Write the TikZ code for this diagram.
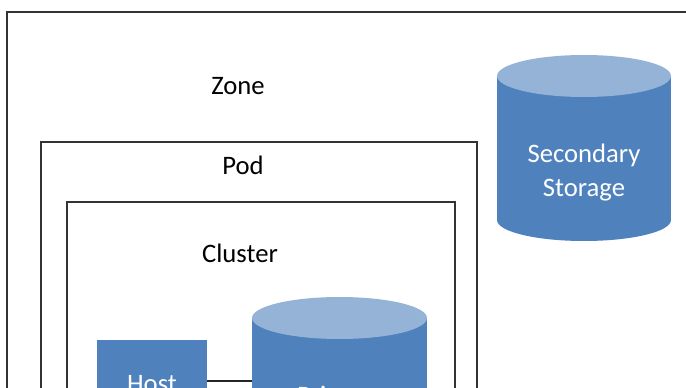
\documentclass[tikz,border=0pt]{standalone}
\usepackage{fontspec}
\setmainfont{Carlito}
\definecolor{storbody}{RGB}{79,129,189}
\definecolor{stortop}{RGB}{149,179,215}
\tikzset{
  frame/.style={draw=black!80, line width=1pt},
  lbl/.style={inner sep=0.75pt, font=\fontsize{20}{26}\selectfont, align=center},
  stortext/.style={lbl, text=white},
  hostbox/.style={fill=storbody, minimum width=82.5pt, minimum height=61.5pt, inner sep=0pt, font=\fontsize{20}{26}\selectfont, text=white},
  link/.style={draw=black!85, line width=0.8pt}
}
\begin{document}
\begin{tikzpicture}[x=0.75pt,y=0.75pt,yscale=-1,xscale=1]
\clip (0,0) rectangle (686,388);
\fill[white] (0,0) rectangle (686,388);

%Shape: Rectangle [zone]
\draw[frame] (7,12) rectangle (720,420);
%Shape: Rectangle [pod]
\draw[frame] (41,142) rectangle (477,420);
%Shape: Rectangle [cluster]
\draw[frame] (67,202) rectangle (455,420);

%Shape: Can [secondary storage]
\fill[storbody] (497,76) rectangle (671,220);
\fill[storbody] (584,220) ellipse [x radius=87, y radius=21];
\fill[stortop] (584,76) ellipse [x radius=87, y radius=21];

%Shape: Can [primary storage]
\fill[storbody] (252,318) rectangle (427,462);
\fill[storbody] (339.5,462) ellipse [x radius=87.5, y radius=21];
\fill[stortop] (339.5,318) ellipse [x radius=87.5, y radius=21];
\coordinate (primedge) at (252,381);

%Shape: Rectangle [host]
\fill[storbody] (97,340) rectangle (207,420);
\node[lbl, text=white] (host) at (152,384) {Host};
\coordinate (hostedge) at (207,381);

%Straight Lines [host to primary]
\draw[link] (hostedge) -- (primedge);

% Text Node
\node[lbl] (zone) at (238,86) {Zone};
% Text Node
\node[lbl] (pod) at (243,165) {Pod};
% Text Node
\node[lbl] (cluster) at (240,253) {Cluster};
% Text Node
\node[stortext] (sec) at (584,172.5) {Secondary\\Storage};
% Text Node
\node[stortext] (prim) at (339.5,415) {Primary\\Storage};

\end{tikzpicture}
\end{document}
